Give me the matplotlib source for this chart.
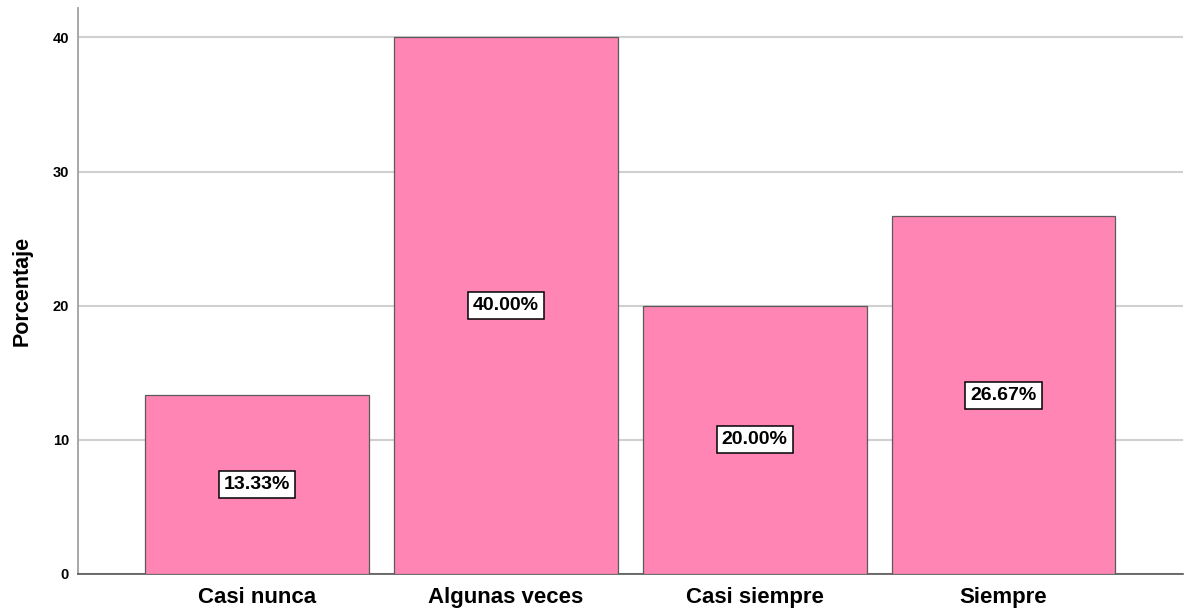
import matplotlib
matplotlib.use("Agg")
import matplotlib.pyplot as plt

categories = ["Casi nunca", "Algunas veces", "Casi siempre", "Siempre"]
percentages = [13.33, 40.00, 20.00, 26.67]
y_ticks = [0, 10, 20, 30, 40]

fig = plt.figure(figsize=(11.85, 6.12), dpi=100)
ax = fig.add_axes([0.0658, 0.0621, 0.9322, 0.925])

x = range(len(categories))
ax.bar(x, percentages, width=0.9, color="#FF85B4", edgecolor="#5a5a5a",
       linewidth=0.9, zorder=3)

for xi, v in zip(x, percentages):
    ax.text(xi, v / 2, f"{v:.2f}%", ha="center", va="center",
            fontsize=14, fontweight="bold", family="Liberation Sans",
            zorder=5,
            bbox=dict(boxstyle="square,pad=0.26", facecolor="white",
                      edgecolor="black", linewidth=1.1))

ax.set_xlim(-0.72, 3.72)
ax.set_ylim(0, 42.2)
ax.set_yticks(y_ticks)
ax.set_yticklabels([str(t) for t in y_ticks], fontsize=10.5,
                   fontweight="bold", family="Liberation Sans")
ax.set_xticks(list(x))
ax.set_xticklabels(categories, fontsize=16, fontweight="bold",
                   family="Liberation Sans")
ax.tick_params(axis="both", length=0)
ax.tick_params(axis="y", pad=6.5)
ax.tick_params(axis="x", pad=9.5)

ax.yaxis.grid(True, color="#d0d0d0", linewidth=1.5, zorder=0)
ax.set_axisbelow(True)

for side in ["top", "right"]:
    ax.spines[side].set_visible(False)
ax.spines["left"].set_color("#a0a0a0")
ax.spines["left"].set_linewidth(1.3)
ax.spines["bottom"].set_color("#555555")
ax.spines["bottom"].set_linewidth(1.2)

ax.set_ylabel("Porcentaje", fontsize=15.5, fontweight="bold",
              family="Liberation Sans")
ax.yaxis.set_label_coords(-0.041, 0.5)

fig.savefig("out.png", dpi=100)
